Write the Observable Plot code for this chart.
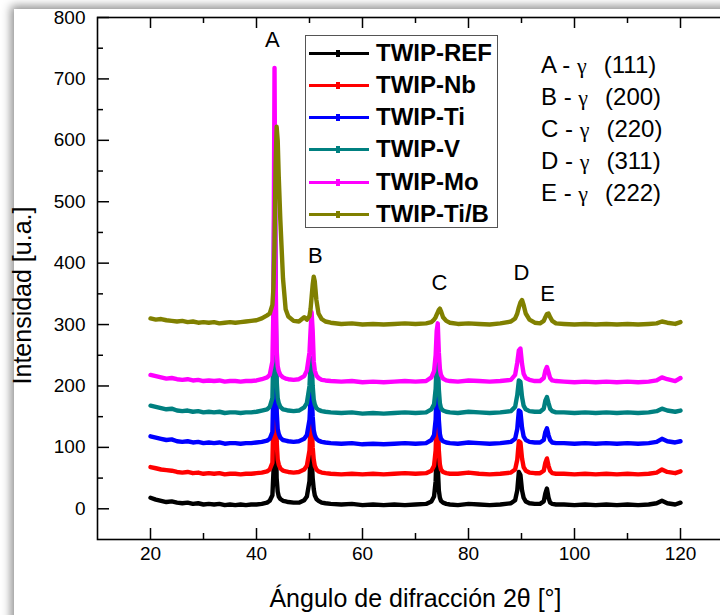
<!DOCTYPE html>
<html>
<head>
<meta charset="utf-8">
<script src="https://cdn.jsdelivr.net/npm/d3@7"></script>
<script src="https://cdn.jsdelivr.net/npm/@observablehq/plot@0.6"></script>
<style>
html,body{margin:0;padding:0;background:#fff;overflow:hidden;width:720px;height:615px;}
#wrap{position:relative;width:720px;height:615px;overflow:hidden;background:#fff;}
#card{position:absolute;left:14px;top:9px;width:790px;height:720px;background:#fff;box-shadow:-3px -3px 9px rgba(0,0,0,0.45);}
#chart{position:absolute;left:0;top:0;width:736px;height:615px;}
#chart svg{max-width:none !important;display:block;}
#legend{position:absolute;left:305px;top:35px;width:191px;height:191px;border:1px solid #555;background:#fff;
  font-family:"Liberation Sans",Arial,sans-serif;font-weight:bold;font-size:24px;color:#000;}
.lrow{position:absolute;left:0;height:32px;width:191px;}
.lline{position:absolute;left:3px;top:15px;width:60px;height:3px;}
.lmark{position:absolute;left:30px;top:13px;width:4px;height:7px;}
.ltext{position:absolute;left:70px;top:0;line-height:32px;white-space:nowrap;}
#notes{position:absolute;left:541px;top:49px;font-family:"Liberation Sans",Arial,sans-serif;font-size:24px;color:#000;}
.nrow{height:32px;line-height:32px;white-space:pre;}
.gam{font-family:"Liberation Serif","DejaVu Serif",serif;font-size:22px;}
.par{margin-left:17px;}
</style>
</head>
<body>
<div id="wrap">
<div id="card"></div>
<div id="chart"></div>
<div id="legend"></div>
<div id="notes"></div>
</div>
<script>
// ---- data ----
const angles = [
  20,21,22,23,24,25,26,27,28,29,30,31,32,33,34,35,36,37,38,39,40,41,42,
  42.5,43,43.2,43.4,43.6,43.8,44,44.2,44.5,45,45.5,46,47,48,49,
  49.5,50,50.2,50.4,50.6,50.8,51,51.3,51.7,52.3,53,
  54,56,58,60,62,64,66,68,70,72,
  73,73.5,73.8,74,74.2,74.4,74.6,74.8,75.2,75.8,76.5,
  78,80,82,84,86,88,
  88.8,89.2,89.5,89.8,90.1,90.4,90.8,91.5,92.5,
  93.5,94.2,94.5,94.8,95.1,95.4,95.8,96.5,
  98,100,102,104,106,108,110,112,114,115.5,116.5,117.5,119,120
];

const seriesNames = ["TWIP-REF","TWIP-Nb","TWIP-Ti","TWIP-V","TWIP-Mo","TWIP-Ti/B"];
const seriesColors = ["#000000","#ff0000","#0000ff","#008080","#ff00ff","#808000"];

const twipREF = [
  18,15,13,11,12,10,9,10,8,9,7,8,7,8,6,7,6,7,6,7,7,8,10,
  13,22,60,400,180,50,28,20,16,13,12,11,10,10,14,
  20,45,92,85,50,32,22,16,13,10,9,
  8,7,8,6,7,6,7,6,7,8,
  12,20,45,100,70,30,18,13,10,8,7,
  6,8,7,6,7,9,
  14,30,60,55,30,18,12,9,8,
  8,12,25,33,18,10,8,7,
  7,6,7,6,7,6,7,6,7,9,13,9,7,10
];
const twipNb = [
  68,66,64,63,62,60,59,60,58,59,57,58,57,58,56,57,57,56,57,57,58,59,61,
  64,75,150,470,260,110,80,72,66,62,61,60,59,60,64,
  70,95,135,145,100,80,70,64,61,59,58,
  57,56,57,56,57,56,57,58,57,58,
  62,70,95,150,160,95,72,64,60,58,57,
  57,59,57,56,57,59,
  64,80,110,108,82,68,62,59,58,
  58,62,75,82,70,62,58,57,
  57,56,57,56,57,56,57,56,57,59,64,60,58,61
];
const twipTi = [
  118,116,114,112,113,110,109,110,108,109,107,108,107,108,106,107,107,106,107,107,108,109,111,
  114,125,200,590,330,160,130,122,116,112,111,110,109,110,114,
  120,145,180,192,150,128,120,114,111,109,108,
  107,106,107,105,106,105,106,107,106,107,
  112,120,145,200,210,145,122,114,110,108,107,
  106,108,107,106,107,109,
  114,130,160,158,132,118,112,109,108,
  108,112,125,131,120,112,108,107,
  107,106,107,106,107,106,107,106,107,109,114,110,108,110
];
const twipV = [
  168,166,164,162,163,160,159,160,158,159,157,158,157,158,156,157,157,156,157,157,158,160,162,
  166,180,260,570,340,210,180,172,166,162,161,160,159,160,165,
  172,200,235,245,200,178,170,164,161,159,158,
  157,156,157,155,156,155,156,157,156,157,
  162,170,195,240,250,195,172,164,160,158,157,
  156,158,157,156,157,159,
  166,185,209,207,182,168,162,159,158,
  158,163,176,182,172,163,159,157,
  157,156,157,156,157,156,157,156,157,159,163,160,158,160
];
const twipMo = [
  218,216,214,212,213,211,210,211,209,210,208,209,208,209,207,208,208,207,208,208,209,211,214,
  218,240,330,718,380,260,232,224,218,214,212,211,210,211,216,
  225,255,290,320,290,240,225,217,213,210,209,
  208,207,208,206,207,206,207,208,207,208,
  214,224,250,290,302,255,228,218,212,209,208,
  207,209,208,207,208,210,
  218,238,258,261,236,220,213,210,208,
  208,213,225,231,222,213,209,208,
  207,206,207,206,207,206,207,206,207,209,214,211,208,213
];
const twipTiB = [
  310,308,309,307,306,305,306,304,305,303,304,303,304,302,303,304,303,304,305,306,307,310,315,
  318,332,360,430,560,622,600,540,470,375,325,313,306,305,312,
  308,314,325,345,365,378,370,340,318,309,305,
  303,301,302,300,301,300,301,302,301,302,
  304,308,312,316,320,324,326,322,312,306,303,
  301,302,301,300,302,305,
  310,318,328,336,340,332,318,308,303,
  302,306,312,317,318,312,306,302,
  301,300,301,300,301,300,301,300,301,302,305,303,301,304
];

const peakLetters = ["A","B","C","D","E"];
const peakLetterX = [43.0, 51.1, 74.5, 90.0, 94.9];
const peakLetterY = [763, 412, 367, 384, 350];

const planeNotes = ["(111)","(200)","(220)","(311)","(222)"];

const xMajor = [20,40,60,80,100,120];
const xMinor = [30,50,70,90,110];
const yMajor = [0,100,200,300,400,500,600,700,800];
const yMinor = [50,150,250,350,450,550,650,750];

// ---- build table ----
const allSeries = [twipREF, twipNb, twipTi, twipV, twipMo, twipTiB];
const rows = [];
allSeries.forEach((vals, i) => {
  if (vals.length !== angles.length) throw new Error(seriesNames[i] + " length " + vals.length + " vs " + angles.length);
  vals.forEach((v, j) => rows.push({series: seriesNames[i], x: angles[j], y: v}));
});
const peaks = peakLetters.map((t, i) => ({t, x: peakLetterX[i], y: peakLetterY[i]}));

const W = 736, H = 615, mL = 97, mR = 3, mT = 17, mB = 76;
const plotH = H - mT - mB, plotW = W - mL - mR;
const font = "'Liberation Sans', Arial, sans-serif";

const chart = Plot.plot({
  width: W, height: H,
  marginLeft: mL, marginRight: mR, marginTop: mT, marginBottom: mB,
  x: {domain: [10, 130], label: null},
  y: {domain: [-50, 800], label: null},
  color: {domain: seriesNames, range: seriesColors},
  style: {fontFamily: font, color: "#000", background: "transparent", overflow: "visible", maxWidth: "none"},
  marks: [
    Plot.line(rows, {x: "x", y: "y", z: "series", stroke: "series", strokeWidth: 4.4, strokeLinejoin: "round"}),
    Plot.text(peaks, {x: "x", y: "y", text: "t", fontSize: 22, fill: "#000"}),
    Plot.frame({stroke: "#000", strokeWidth: 1.6}),
    // bottom ticks (inward)
    Plot.tickX(xMajor, {x: d => d, insetTop: plotH - 11, stroke: "#000", strokeWidth: 1.5}),
    Plot.tickX(xMinor, {x: d => d, insetTop: plotH - 6, stroke: "#000", strokeWidth: 1.5}),
    // top ticks (inward)
    Plot.tickX(xMajor, {x: d => d, insetBottom: plotH - 11, stroke: "#000", strokeWidth: 1.5}),
    Plot.tickX(xMinor, {x: d => d, insetBottom: plotH - 6, stroke: "#000", strokeWidth: 1.5}),
    // left ticks (inward)
    Plot.tickY(yMajor, {y: d => d, insetRight: plotW - 12, stroke: "#000", strokeWidth: 1.5}),
    Plot.tickY(yMinor, {y: d => d, insetRight: plotW - 6, stroke: "#000", strokeWidth: 1.5}),
    Plot.axisX(xMajor, {anchor: "bottom", tickSize: 0, tickPadding: 7, fontSize: 19, label: null}),
    Plot.axisY(yMajor, {anchor: "left", tickSize: 0, tickPadding: 12, fontSize: 19, label: null}),
    Plot.text(["Ángulo de difracción 2θ [°]"], {frameAnchor: "bottom", textAnchor: "middle", dy: 67, fontSize: 25, fill: "#000"}),
    Plot.text(["Intensidad [u.a.]"], {frameAnchor: "left", textAnchor: "middle", dx: -75, dy: 17, rotate: -90, fontSize: 25, fill: "#000"})
  ]
});
chart.style.maxWidth = "none";
document.getElementById("chart").appendChild(chart);

// legend
const leg = document.getElementById("legend");
seriesNames.forEach((n, i) => {
  const r = document.createElement("div");
  r.className = "lrow";
  r.style.top = (0.5 + 32.3 * i) + "px";
  r.innerHTML = `<div class="lline" style="background:${seriesColors[i]}"></div>` +
    `<div class="lmark" style="background:${seriesColors[i]}"></div>` +
    `<div class="ltext">${n}</div>`;
  leg.appendChild(r);
});

// plane notes
const notes = document.getElementById("notes");
peakLetters.forEach((l, i) => {
  const r = document.createElement("div");
  r.className = "nrow";
  r.innerHTML = `${l} - <span class="gam">γ</span><span class="par">${planeNotes[i]}</span>`;
  notes.appendChild(r);
});
</script>
</body>
</html>
